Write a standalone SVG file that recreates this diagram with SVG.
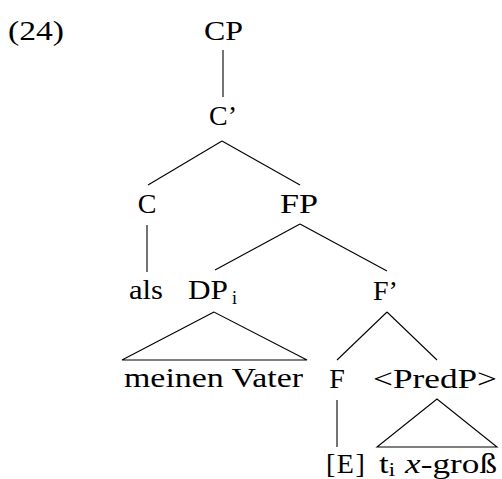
<svg xmlns="http://www.w3.org/2000/svg" width="502" height="479" viewBox="0 0 502 479">
  <style>
    .lbl { font-family: 'Liberation Serif', 'Times New Roman', Times, serif; font-size: 28px; fill: #000; }
    .sub { font-size: 18px; }
    .edge { stroke: #000; stroke-width: 1.1; fill: none; }
  </style>
  <rect width="502" height="479" fill="#fff"/>

  <text class="lbl" x="8" y="40" textLength="56" lengthAdjust="spacingAndGlyphs">(24)</text>

  <g id="connectors">
    <line class="edge" x1="223" y1="50" x2="223" y2="97"/>
    <line class="edge" x1="222" y1="141" x2="148" y2="185"/>
    <line class="edge" x1="222" y1="141" x2="300" y2="185"/>
    <line class="edge" x1="147" y1="225" x2="147" y2="272"/>
    <line class="edge" x1="300" y1="224" x2="215" y2="270"/>
    <line class="edge" x1="300" y1="224" x2="387" y2="271"/>
    <polygon class="edge" points="214,312 122,360 307,360"/>
    <line class="edge" x1="387" y1="312" x2="337" y2="360"/>
    <line class="edge" x1="387" y1="312" x2="437" y2="360"/>
    <line class="edge" x1="337" y1="400" x2="337" y2="447"/>
    <polygon class="edge" points="437,399 377,447 497,447"/>
  </g>

  <g id="CP"><text class="lbl" x="204" y="40" textLength="39" lengthAdjust="spacingAndGlyphs">CP</text></g>
  <g id="Cbar"><text class="lbl" x="209" y="125">C’</text></g>
  <g id="C"><text class="lbl" x="147" y="213" text-anchor="middle">C</text></g>
  <g id="FP"><text class="lbl" x="280" y="213" textLength="38" lengthAdjust="spacingAndGlyphs">FP</text></g>
  <g id="als"><text class="lbl" x="129" y="299" textLength="34" lengthAdjust="spacingAndGlyphs">als</text></g>
  <g id="DP"><text class="lbl" x="188" y="299" textLength="40" lengthAdjust="spacingAndGlyphs">DP</text><text class="lbl sub" x="232" y="304">i</text></g>
  <g id="Fbar"><text class="lbl" x="373" y="300">F’</text></g>
  <g id="DPyield"><text class="lbl" x="124" y="387" textLength="179" lengthAdjust="spacingAndGlyphs">meinen Vater</text></g>
  <g id="F"><text class="lbl" x="337" y="388" text-anchor="middle">F</text></g>
  <g id="PredP"><text class="lbl" x="373" y="388" textLength="124" lengthAdjust="spacingAndGlyphs">&lt;PredP&gt;</text></g>
  <g id="E"><text class="lbl" x="326" y="473" letter-spacing="1.5">[E]</text></g>
  <g id="PredPyield"><text class="lbl" x="379" y="473" textLength="118" lengthAdjust="spacingAndGlyphs">t<tspan class="sub" dy="3">i</tspan><tspan dy="-3" dx="8" font-style="italic">x</tspan>-groß</text></g>
</svg>
